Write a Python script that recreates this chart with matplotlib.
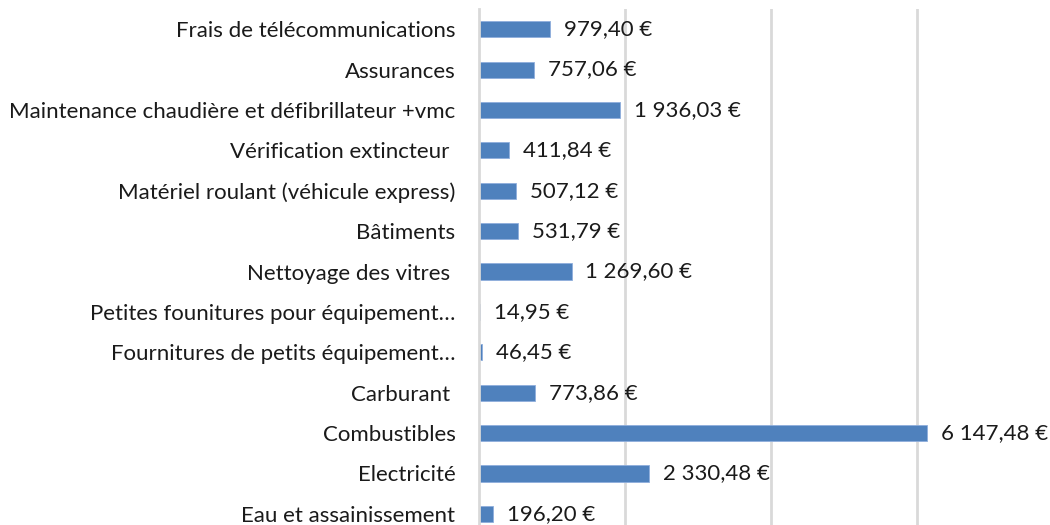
import matplotlib.pyplot as plt

categories = [
    'Frais de télécommunications',
    'Assurances',
    'Maintenance chaudière et défibrillateur +vmc',
    'Vérification extincteur ',
    'Matériel roulant (véhicule express)',
    'Bâtiments',
    'Nettoyage des vitres ',
    'Petites founitures pour équipement…',
    'Fournitures de petits équipement…',
    'Carburant ',
    'Combustibles',
    'Electricité',
    'Eau et assainissement',
]
values = [979.40, 757.06, 1936.03, 411.84, 507.12, 531.79, 1269.60,
          14.95, 46.45, 773.86, 6147.48, 2330.48, 196.20]


def euro(v):
    s = f'{v:,.2f}'.replace(',', ' ').replace('.', ',')
    return s + ' €'


plt.rcParams['font.family'] = ['Lato', 'DejaVu Sans']

fig = plt.figure(figsize=(10.5, 5.25), dpi=100)
# plot area runs a little past the bottom edge, like the original
ax = fig.add_axes([479 / 1050, (525 - 534) / 525, 547 / 1050, (534 - 9) / 525])

pos = list(range(len(categories)))
bars = ax.barh(pos, values, height=0.4, color='#4F81BD', edgecolor='#8FAEDC', linewidth=0.6, zorder=3)
ax.set_ylim(len(categories) - 0.5, -0.5)
ax.set_xlim(0, 7500)

ax.set_yticks(pos)
ax.set_yticklabels(categories, fontsize=16, color='#1a1a1a')
ax.tick_params(axis='y', length=0, pad=17)
ax.set_xticks([2000, 4000, 6000])
ax.tick_params(axis='x', length=0, labelbottom=False)
ax.grid(axis='x', color='#d9d9d9', linewidth=2, zorder=0)

for s in ['top', 'right', 'bottom']:
    ax.spines[s].set_visible(False)
ax.spines['left'].set_color('#d9d9d9')
ax.spines['left'].set_linewidth(2)
ax.spines['left'].set_zorder(4)

for bar, v in zip(bars, values):
    ax.annotate(euro(v),
                xy=(bar.get_width(), bar.get_y() + bar.get_height() / 2),
                xytext=(10, 0), textcoords='offset points',
                ha='left', va='center', fontsize=16, color='#1a1a1a',
                annotation_clip=False)

fig.savefig('out.png', dpi=100)
